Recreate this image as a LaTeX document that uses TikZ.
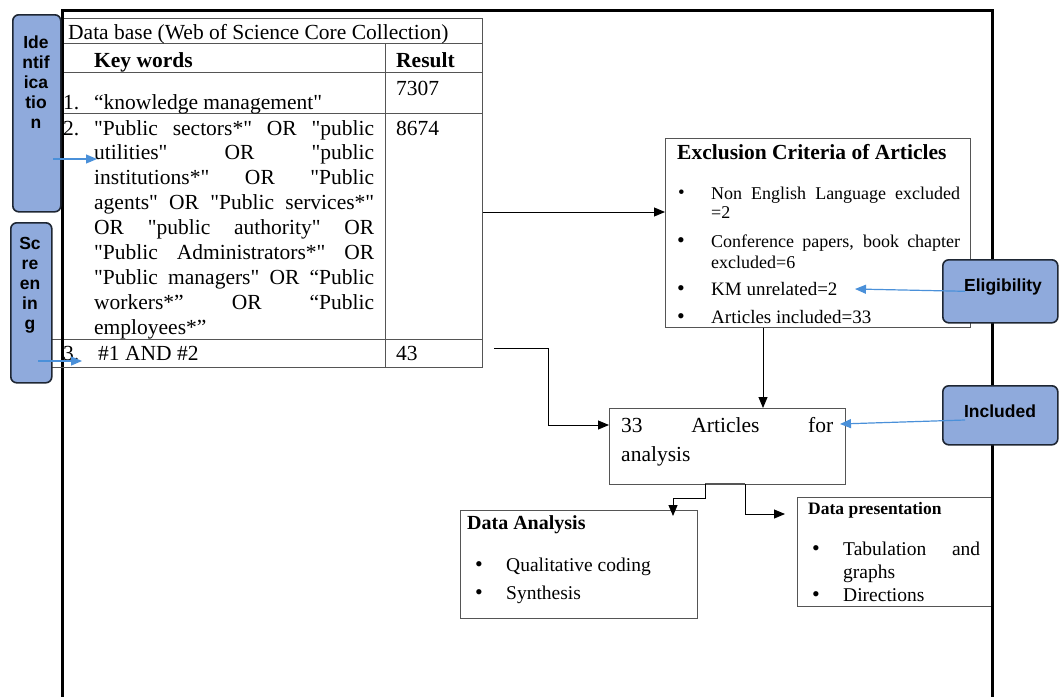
\documentclass[tikz,border=0pt]{standalone}
\usepackage{fontspec}
\setmainfont{Liberation Serif}[Ligatures=TeXOff]
\newfontfamily\lsans{Liberation Sans}
\usetikzlibrary{arrows.meta}
\definecolor{stageblue}{HTML}{8FAADC}
\definecolor{arrowblue}{HTML}{4A90D9}
\definecolor{stageedge}{HTML}{1E2633}
\definecolor{gridgray}{HTML}{555555}
\begin{document}
\begin{tikzpicture}[x=1pt,y=-1pt,
  stage/.style={draw=stageedge, line width=1.6pt, fill=stageblue, rounded corners=6pt, inner sep=0pt, anchor=north west},
  stagetext/.style={font=\lsans\bfseries\fontsize{17.5}{20}\selectfont, align=center, inner sep=0pt},
  box/.style={draw=gridgray, line width=0.9pt, inner sep=0pt, anchor=north west},
  arr/.style={-{Triangle[length=11pt,width=9pt]}, line width=0.9pt, black},
  barr/.style={-{Triangle[length=11pt,width=9pt]}, line width=1.2pt, arrowblue},
  txt/.style={inner sep=0pt, anchor=base west},
  big/.style={font=\fontsize{21.5}{25}\selectfont},
  bigb/.style={font=\bfseries\fontsize{21.5}{25}\selectfont},
  bul/.style={inner sep=0pt, anchor=base west, font=\fontsize{18}{22}\selectfont},
  dot/.style={inner sep=0pt, anchor=base west, font=\fontsize{22}{22}\selectfont}
]
\useasboundingbox (0,0) rectangle (1059,696);
% outer frame
\draw[line width=3pt] (62,700) -- (62,10) -- (992,10) -- (992,700);

% table
\node[box, minimum width=420pt, minimum height=349pt] (tbl) at (62,18) {};
\draw[gridgray, line width=0.9pt] (62,43) -- (482,43);
\draw[gridgray, line width=0.9pt] (62,72) -- (482,72);
\draw[gridgray, line width=0.9pt] (62,113) -- (482,113);
\draw[gridgray, line width=0.9pt] (52,339) -- (482,339);
\draw[gridgray, line width=0.9pt] (52,367) -- (482,367);
\draw[gridgray, line width=0.9pt] (385,43) -- (385,367);
\draw[line width=3pt] (62,18) -- (62,367);

\node[txt, big] (dbt) at (68,39) {Data base (Web of Science Core Collection)};
\node[txt, bigb] (kwh) at (94,67) {Key words};
\node[txt, bigb] (resh) at (396,67) {Result};
\node[txt, big] (n1) at (63,109) {1.};
\node[txt, big] (kw1) at (94,109) {“knowledge management"};
\node[txt, big] (r1) at (396,95) {7307};
\node[txt, big] (n2) at (63,135) {2.};
\foreach \ln/\s [count=\i from 0] in {%
  {"Public sectors*" OR "public}/s,
  {utilities" OR "public}/s,
  {institutions*" OR "Public}/s,
  {agents" OR "Public services*"}/s,
  {OR "public authority" OR}/s,
  {"Public Administrators*" OR}/s,
  {"Public managers" OR “Public}/s,
  {workers*” OR “Public}/s,
  {employees*”}/l}
  \node[txt, big] (kw2-\i) at (94,135+24.9*\i) {\makebox[280pt][\s]{\ln}};
\node[txt, big] (r2) at (396,135) {8674};
\node[txt, big] (n3) at (63,360) {3.};
\node[txt, big] (kw3) at (98,360) {\#1 AND \#2};
\node[txt, big] (r3) at (396,360) {43};

% stage labels
\node[stage, minimum width=48pt, minimum height=197pt] (ident) at (12,14) {};
\node[stagetext, anchor=north] (identl) at (36,36) {Ide\\ntif\\ica\\tio\\n};
\node[stage, minimum width=41pt, minimum height=160pt] (screen) at (10,222) {};
\node[stagetext, anchor=north] (screenl) at (30,237) {Sc\\re\\en\\in\\g};
\coordinate (identtip) at (97,159);
\coordinate (screentip) at (82,361);
\draw[barr] (identtip -| 53,0) -- (identtip);
\draw[barr] (screentip -| 38,0) -- (screentip);

% exclusion box
\node[box, minimum width=305pt, minimum height=189pt] (excl) at (665,138) {};
\node[txt, bigb] (exclt) at (677,159) {Exclusion Criteria of Articles};
\node[dot, font=\fontsize{19}{20}\selectfont] (b1) at (678,198) {•};
\node[bul] (e1) at (711,199) {\makebox[249pt][s]{Non English Language excluded}};
\node[bul] (e1b) at (711,218) {=2};
\node[dot] (b2) at (677,247) {•};
\node[bul] (e2) at (711,247) {\makebox[249pt][s]{Conference papers, book chapter}};
\node[bul] (e2b) at (711,268) {excluded=6};
\node[dot] (b3) at (677,295) {•};
\node[bul, font=\fontsize{19}{22}\selectfont] (e3) at (711,295) {KM unrelated=2};
\node[dot] (b4) at (677,323) {•};
\node[bul, font=\fontsize{19}{22}\selectfont] (e4) at (711,323) {Articles included=33};

% articles box
\node[box, minimum width=236pt, minimum height=76pt] (art) at (609,408) {};
\node[txt, big] (art1) at (621,432) {\makebox[212pt][s]{33 Articles for}};
\node[txt, big] (art2) at (621,461) {analysis};

% data analysis
\node[box, minimum width=237pt, minimum height=108pt] (da) at (460,510) {};
\node[txt, font=\bfseries\fontsize{20}{24}\selectfont] (dat) at (467,529) {Data Analysis};
\node[dot] (db1) at (475,571) {•};
\node[bul, font=\fontsize{19.5}{23}\selectfont] (da1) at (506,571) {Qualitative coding};
\node[dot] (db2) at (475,599) {•};
\node[bul, font=\fontsize{19.5}{23}\selectfont] (da2) at (506,599) {Synthesis};

% data presentation
\node[box, minimum width=195pt, minimum height=109pt] (dp) at (797,497) {};
\node[txt, font=\bfseries\fontsize{17.5}{21}\selectfont] (dpt) at (808,514) {Data presentation};
\node[dot] (pb1) at (812,555) {•};
\node[bul, font=\fontsize{19.5}{23}\selectfont] (dp1) at (843,555) {\makebox[137pt][s]{Tabulation and}};
\node[bul, font=\fontsize{19.5}{23}\selectfont] (dp1b) at (843,578) {graphs};
\node[dot] (pb2) at (812,601) {•};
\node[bul, font=\fontsize{19.5}{23}\selectfont] (dp2) at (843,601) {Directions};

% frame right line over data presentation box
\draw[line width=3pt] (992,10) -- (992,700);

% eligibility / included
\node[stage, minimum width=115pt, minimum height=63pt] (elig) at (942,259) {};
\node[stagetext] (eligl) at (1003,287) {Eligibility};
\node[stage, minimum width=115pt, minimum height=59pt] (incl) at (942,385) {};
\node[stagetext] (incll) at (1000,411) {Included};

% black connectors
\draw[arr] (tbl.east |- 0,212) -- (excl.west |- 0,212);
\coordinate (exdrop) at (763,408);
\draw[arr] (exdrop |- excl.south) -- (exdrop |- art.north);
\coordinate (r3out) at (494,348);
\draw[arr] (r3out) -- (548,348) -- (548,425) -- (art.west |- 0,425);
\coordinate (splitL) at (705,484);
\coordinate (splitR) at (745,484);
\draw[gridgray, line width=1.8pt] (splitL) -- (splitR);
\draw[arr] (splitL) -- (705,498) -- (673,498) -- (673,516);
\draw[arr] (splitR) -- (745,514) -- (785,514);

% blue connectors
\coordinate (kmtip) at (855,289);
\coordinate (arttip) at (840,424);
\draw[barr] (elig.west -| 965,0) -- (kmtip);
\draw[barr] (965,420) -- (arttip);
\end{tikzpicture}
\end{document}
